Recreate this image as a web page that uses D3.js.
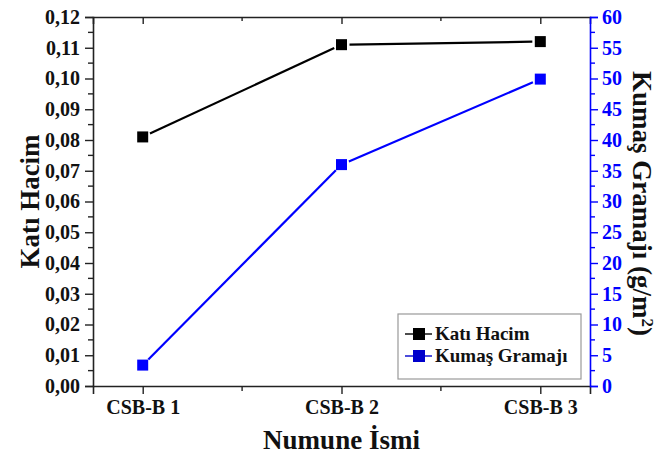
<!DOCTYPE html>
<html>
<head>
<meta charset="utf-8">
<script src="https://cdn.jsdelivr.net/npm/d3@7"></script>
<style>
  html, body { margin: 0; padding: 0; background: #fff; }
  svg text { font-family: "Liberation Serif", "Times New Roman", serif !important; font-weight: bold; }
</style>
</head>
<body>
<svg id="chart" width="657" height="455"></svg>
<script>
// Sample names and measured values
const categories = ["CSB-B 1", "CSB-B 2", "CSB-B 3"];
const katiHacim = [0.081, 0.111, 0.112];
const kumasGramaji = [3.4, 36.0, 49.9];
const leftTicks = [0, 0.01, 0.02, 0.03, 0.04, 0.05, 0.06, 0.07, 0.08, 0.09, 0.10, 0.11, 0.12];
const rightTicks = [0, 5, 10, 15, 20, 25, 30, 35, 40, 45, 50, 55, 60];
const seriesNames = ["Katı Hacim", "Kumaş Gramajı"];

const svg = d3.select("#chart");
const m = { left: 93, right: 590, top: 17, bottom: 386 };
const BLUE = "#0000ff";
const FONT = "Liberation Serif";

const x = d3.scaleLinear().domain([0.75, categories.length + 0.25]).range([m.left, m.right]);
const yL = d3.scaleLinear().domain([0, 0.12]).range([m.bottom, m.top]);
const yR = d3.scaleLinear().domain([0, 60]).range([m.bottom, m.top]);

const fmt = d => d3.format(".2f")(d).replace(".", ",");
const catIdx = categories.map((c, i) => i + 1);
const minorX = d3.range(1.5, categories.length, 1);

function styleAxis(g, color) {
  g.attr("font-family", FONT);
  g.selectAll("path.domain").attr("stroke", color).attr("stroke-width", 1.6);
  g.selectAll(".tick line").attr("stroke", color).attr("stroke-width", 1.4);
  g.selectAll(".tick text").attr("fill", color).attr("font-family", FONT).attr("font-weight", "bold");
}

// Minor ticks helper
function minorTicks(g, vals, orient, color, len) {
  g.selectAll(null).data(vals).enter().append("line")
    .attr("stroke", color).attr("stroke-width", 1.4)
    .each(function (d) {
      const s = d3.select(this);
      if (orient === "left") s.attr("x1", 0).attr("x2", -len).attr("y1", d).attr("y2", d);
      if (orient === "right") s.attr("x1", 0).attr("x2", len).attr("y1", d).attr("y2", d);
      if (orient === "bottom" || orient === "top") s.attr("y1", 0).attr("y2", len).attr("x1", d).attr("x2", d);
    });
}

// Bottom axis
const gB = svg.append("g").attr("transform", `translate(0,${m.bottom})`)
  .call(d3.axisBottom(x).tickValues(catIdx).tickFormat(i => categories[i - 1]).tickSizeOuter(0).tickSize(8).tickPadding(6));
styleAxis(gB, "#222");
gB.selectAll(".tick text").attr("font-size", 20).attr("fill", "#111");
minorTicks(gB, minorX.map(x), "bottom", "#222", 5);

// Top axis (inward ticks)
const gT = svg.append("g").attr("transform", `translate(0,${m.top})`)
  .call(d3.axisTop(x).tickValues(catIdx).tickFormat("").tickSizeOuter(0).tickSize(-7));
styleAxis(gT, "#222");
minorTicks(gT, minorX.map(x), "top", "#222", 4);

// Left axis
const gL = svg.append("g").attr("transform", `translate(${m.left},0)`)
  .call(d3.axisLeft(yL).tickValues(leftTicks).tickFormat(fmt).tickSizeOuter(0).tickSize(8).tickPadding(5));
styleAxis(gL, "#222");
gL.selectAll(".tick text").attr("font-size", 20).attr("fill", "#111");
minorTicks(gL, leftTicks.slice(1).map(v => yL(v - 0.005)), "left", "#222", 5);

// Right axis
const gR = svg.append("g").attr("transform", `translate(${m.right},0)`)
  .call(d3.axisRight(yR).tickValues(rightTicks).tickSizeOuter(0).tickSize(8).tickPadding(4));
styleAxis(gR, BLUE);
gR.selectAll(".tick text").attr("font-size", 20);
minorTicks(gR, rightTicks.slice(1).map(v => yR(v - 2.5)), "right", BLUE, 5);

// Series lines with markers
function drawSeries(vals, yScale, color) {
  const pts = vals.map((v, i) => [x(i + 1), yScale(v)]);
  const gap = 8;
  for (let i = 0; i < pts.length - 1; i++) {
    const [x1, y1] = pts[i], [x2, y2] = pts[i + 1];
    const len = Math.hypot(x2 - x1, y2 - y1);
    const ux = (x2 - x1) / len, uy = (y2 - y1) / len;
    svg.append("line")
      .attr("x1", x1 + ux * gap).attr("y1", y1 + uy * gap)
      .attr("x2", x2 - ux * gap).attr("y2", y2 - uy * gap)
      .attr("stroke", color).attr("stroke-width", 2.2);
  }
  svg.selectAll(null).data(pts).enter().append("rect")
    .attr("x", d => d[0] - 5.5).attr("y", d => d[1] - 5.5)
    .attr("width", 11).attr("height", 11).attr("fill", color);
}
drawSeries(katiHacim, yL, "#000");
drawSeries(kumasGramaji, yR, BLUE);

// Legend
const leg = svg.append("g").attr("transform", "translate(398,314)");
leg.append("rect").attr("width", 183).attr("height", 65)
  .attr("fill", "#fff").attr("stroke", "#999").attr("stroke-width", 1.2);
[["#000", 20], ["#0000cc", 42]].forEach(([c, yy], i) => {
  leg.append("line").attr("x1", 7).attr("x2", 34).attr("y1", yy).attr("y2", yy).attr("stroke", c).attr("stroke-width", 1.4);
  leg.append("rect").attr("x", 15).attr("y", yy - 6).attr("width", 12).attr("height", 12).attr("fill", c);
  leg.append("text").attr("x", 37).attr("y", yy + 6).attr("font-family", FONT).attr("font-size", 19).attr("fill", "#111").text(seriesNames[i]);
});

// Axis titles
svg.append("text").attr("x", (m.left + m.right) / 2).attr("y", 449).attr("font-family", FONT)
  .attr("text-anchor", "middle").attr("font-size", 27).attr("fill", "#111").text("Numune İsmi");
svg.append("text").attr("transform", `translate(39,${(m.top + m.bottom) / 2}) rotate(-90)`).attr("font-family", FONT)
  .attr("text-anchor", "middle").attr("font-size", 27).attr("fill", "#111").text("Katı Hacim");
const rt = svg.append("text").attr("transform", `translate(633,${(m.top + m.bottom) / 2 + 2}) rotate(90)`).attr("font-family", FONT)
  .attr("text-anchor", "middle").attr("font-size", 27).attr("fill", "#111");
rt.append("tspan").text("Kumaş Gramajı (g/m");
rt.append("tspan").attr("dy", -9).attr("font-size", 17).text("2");
rt.append("tspan").attr("dy", 9).text(")");
</script>
</body>
</html>
